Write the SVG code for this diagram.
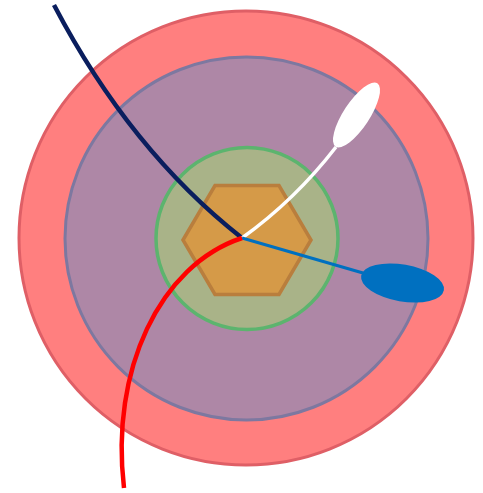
<svg xmlns="http://www.w3.org/2000/svg" width="483" height="493" viewBox="0 0 483 493">
  <style>
    .wire { fill: none; stroke-linecap: butt; }
  </style>
  <rect width="483" height="493" fill="#ffffff"/>
  <g id="outer-ring">
    <circle cx="246" cy="238" r="227" fill="#FF7F7F" stroke="#DF5F66" stroke-width="3"/>
  </g>
  <g id="middle-disc">
    <circle cx="246.5" cy="238.5" r="181.5" fill="#AE87A6" stroke="#7D78A0" stroke-width="3"/>
  </g>
  <g id="inner-disc">
    <circle cx="247" cy="238.5" r="91" fill="#A9B388" stroke="#5CB46E" stroke-width="3.5"/>
  </g>
  <g id="hexagon">
    <polygon points="183,240 215,185.5 279,185.5 311,240 279,294.5 215,294.5" fill="#D59A48" stroke="#B97E3D" stroke-width="3.5"/>
  </g>
  <g id="connectors">
    <path class="wire" d="M54,5 Q130,150 242,238" stroke="#0A1E5E" stroke-width="4.5"/>
    <path class="wire" d="M242,238 Q295,200 336,147" stroke="#ffffff" stroke-width="3.5"/>
    <path class="wire" d="M242,238 L363,273" stroke="#0070C0" stroke-width="3"/>
    <path class="wire" d="M242,238 C160,265 110,370 124,488" stroke="#FF0000" stroke-width="4.5"/>
  </g>
  <g id="white-pad">
    <ellipse cx="356.5" cy="115" rx="38" ry="13" transform="rotate(-56.7 356.5 115)" fill="#ffffff"/>
  </g>
  <g id="blue-pad">
    <ellipse cx="402.5" cy="283" rx="42" ry="18.5" transform="rotate(10 402.5 283)" fill="#0070C0"/>
  </g>
</svg>
